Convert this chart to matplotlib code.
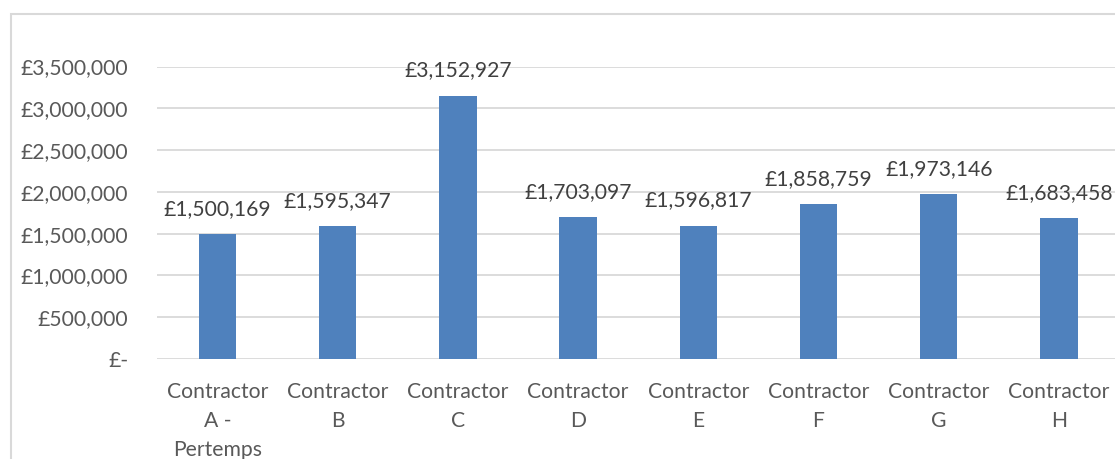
import matplotlib.pyplot as plt
from matplotlib.patches import Rectangle
from matplotlib.ticker import FuncFormatter

# Data
contractors = ["Contractor\nA -\nPertemps", "Contractor\nB", "Contractor\nC", "Contractor\nD",
               "Contractor\nE", "Contractor\nF", "Contractor\nG", "Contractor\nH"]
spend = [1500169, 1595347, 3152927, 1703097, 1596817, 1858759, 1973146, 1683458]
y_ticks = [0, 500000, 1000000, 1500000, 2000000, 2500000, 3000000, 3500000]

plt.rcParams['font.family'] = ['Lato', 'DejaVu Sans']

fig = plt.figure(figsize=(11.15, 4.59), dpi=100)
fig.patch.set_facecolor('white')

# chart area border (cropped Excel chart)
fig.patches.append(Rectangle((11 / 1115, -0.1), 1.2, (1 - 14 / 459) + 0.1,
                             transform=fig.transFigure, fill=False,
                             edgecolor='#d9d9d9', linewidth=1.5))

ax = fig.add_axes([157.4 / 1115, 1 - 359 / 459, 961.6 / 1115, 292.5 / 459])
x = range(len(contractors))
bars = ax.bar(x, spend, width=0.31, color='#4f81bd', zorder=3)

ax.set_xlim(-0.5, len(contractors) - 0.5)
ax.set_ylim(0, 3500000)
ax.set_yticks(y_ticks)

def money(v, pos=None):
    if v == 0:
        return "£-"
    return "£{:,.0f}".format(v)

ax.yaxis.set_major_formatter(FuncFormatter(money))
ax.set_xticks(list(x))
ax.set_xticklabels(contractors, linespacing=1.58)

ax.grid(axis='y', color='#d9d9d9', linewidth=1.3, zorder=0)
for s in ax.spines.values():
    s.set_visible(False)
ax.tick_params(axis='both', length=0, labelsize=15.2, colors='#595959')
ax.tick_params(axis='y', pad=21)
ax.tick_params(axis='x', pad=16.5)

for rect, v in zip(bars, spend):
    ax.annotate(money(v), (rect.get_x() + rect.get_width() / 2, v),
                xytext=(0, 18), textcoords='offset points',
                ha='center', va='center', fontsize=15.2, color='#404040')

fig.savefig('out.png', dpi=100)
